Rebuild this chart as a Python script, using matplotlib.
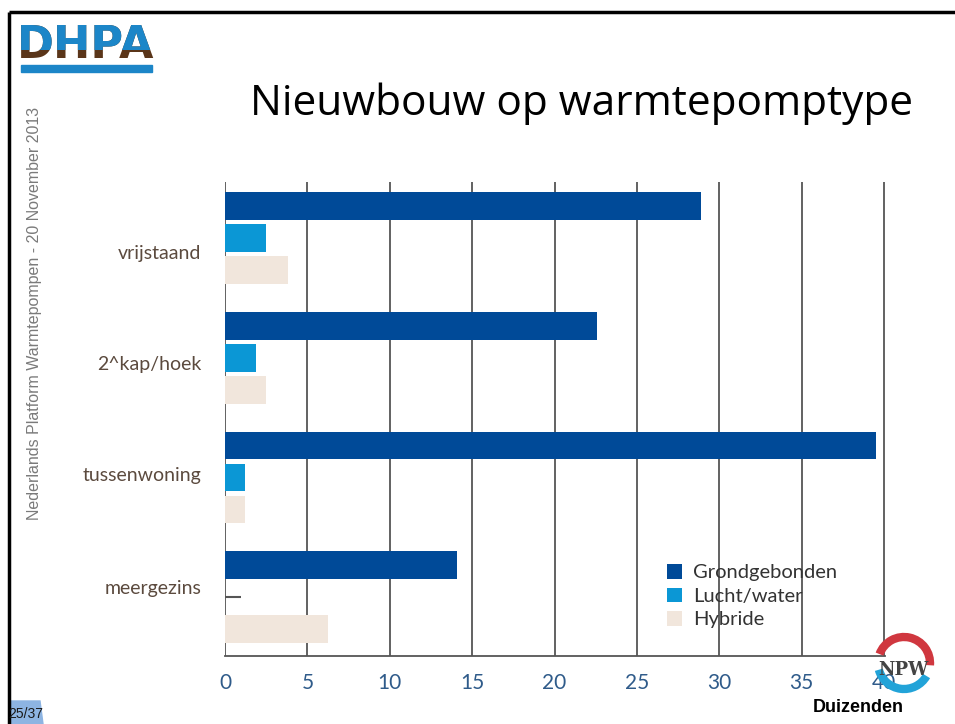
import numpy as np
import matplotlib.pyplot as plt
from matplotlib.patches import Rectangle, Arc, Polygon
from matplotlib.transforms import Bbox, TransformedBbox

# Gegevens (duizenden woningen)
categories = ["vrijstaand", "2^kap/hoek", "tussenwoning", "meergezins"]
grondgebonden = [28.9, 22.6, 39.5, 14.1]
lucht_water = [2.5, 1.9, 1.2, 1.0]
hybride = [3.8, 2.5, 1.2, 6.25]
series_names = ["Grondgebonden", "Lucht/water", "Hybride"]
xticks = [0, 5, 10, 15, 20, 25, 30, 35, 40]

c_grond = "#004a98"
c_lucht = "#0b97d5"
c_hybr = "#f1e6dc"

fig = plt.figure(figsize=(9.55, 7.24), dpi=100)
W, H = 955, 724

ax = fig.add_axes([225 / W, 1 - 656 / H, 660 / W, (656 - 182) / H])

y = np.arange(len(categories))
h = 0.233
off = 0.267
# labels staan in het origineel niet precies in het midden van de groep
label_shift = [0.12, 0.04, -0.03, -0.09]

for x in xticks:
    ax.axvline(x, color="#555555", lw=1.3, zorder=1)

ax.barh(y - off, grondgebonden, height=h, color=c_grond, zorder=2, label=series_names[0])
ax.barh(y[:3], lucht_water[:3], height=h, color=c_lucht, zorder=2, label=series_names[1])
ax.hlines(y[3], 0, lucht_water[3], color="#555555", lw=1.5, zorder=2)
ax.barh(y + off, hybride, height=h, color=c_hybr, zorder=2, label=series_names[2])

ax.set_xlim(0, 40.05)
ax.set_ylim(3.49, -0.467)
ax.set_xticks(xticks)
ax.set_xticklabels([str(v) for v in xticks], fontsize=15, color="#2f5b8a", family="Lato")
ax.set_yticks(y + np.array(label_shift))
ax.set_yticklabels(categories, fontsize=14, color="#5b4a3e", family="Lato")
ax.tick_params(axis="x", length=0, pad=12)
ax.tick_params(axis="y", length=0, pad=17)
for s in ["top", "right", "left"]:
    ax.spines[s].set_visible(False)
ax.spines["bottom"].set_color("#555555")
ax.spines["bottom"].set_linewidth(1.3)

leg = ax.legend(loc="upper left", bbox_to_anchor=(432 / 660, 1 - (554 - 182) / 474),
                frameon=False, prop={"family": "Lato", "size": 14.5},
                handlelength=0.75, handleheight=0.75, handletextpad=0.55,
                labelspacing=0.3, borderpad=0)
for t in leg.get_texts():
    t.set_color("#333333")

# Decoratie van de dia (pixelcoordinaten, y naar beneden)
deco = fig.add_axes([0, 0, 1, 1], zorder=5)
deco.set_xlim(0, W)
deco.set_ylim(H, 0)
deco.axis("off")
deco.patch.set_alpha(0)

deco.plot([8.5, 8.5], [H, 12], color="black", lw=2.5, solid_capstyle="butt")
deco.plot([8.5, W], [12, 12], color="black", lw=2.5, solid_capstyle="butt")

deco.text(581, 104, "Nieuwbouw op warmtepomptype", fontsize=30.5, family="Open Sans",
          ha="center", va="center", color="black")

deco.text(35, 313, "Nederlands Platform Warmtepompen - 20 November 2013", rotation=90,
          fontsize=11.5, family="Liberation Sans", color="#7a7a7a", ha="center", va="center")

# DHPA logo: blauw boven, bruin onder
deco.text(86, 45, "DHPA", fontsize=32, fontweight="bold", family="DejaVu Sans",
          color="#5a3519", ha="center", va="center", zorder=1)
t_top = deco.text(86, 45, "DHPA", fontsize=32, fontweight="bold", family="DejaVu Sans",
                  color="#1c86c8", ha="center", va="center", zorder=2)
t_top.set_clip_box(TransformedBbox(Bbox([[0, 20], [200, 50]]), deco.transData))
t_top.set_clip_on(True)
deco.add_patch(Rectangle((21, 65), 131, 7, color="#1c86c8"))

# slidenummer
deco.add_patch(Polygon([[9, 724], [11, 701], [40, 701], [43, 724]], closed=True,
                       color="#8db4e2"))
deco.text(26, 714, "25/37", fontsize=10, family="Liberation Sans", color="#1a1a1a",
          ha="center", va="center")

# NPW logo (y-as omgekeerd, dus hoeken gespiegeld)
deco.add_patch(Arc((904, 663), 52, 52, angle=0, theta1=30, theta2=165,
                   color="#22a3d8", lw=6))
deco.add_patch(Arc((904, 663), 52, 52, angle=0, theta1=-160, theta2=5,
                   color="#d0373f", lw=6))
deco.text(903, 670, "NPW", fontsize=13, fontweight="bold", family="DejaVu Serif",
          color="#444444", ha="center", va="center")
deco.text(858, 708, "Duizenden", fontsize=13, fontweight="bold", family="Liberation Sans",
          color="black", ha="center", va="center")

fig.savefig("out.png", dpi=100)
